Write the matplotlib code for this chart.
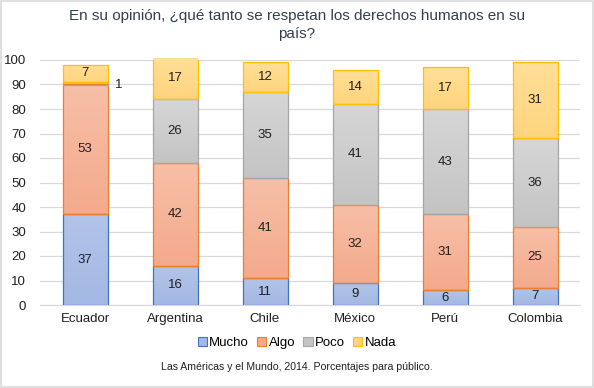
import numpy as np
import matplotlib
matplotlib.use("Agg")
import matplotlib.pyplot as plt
from matplotlib.colors import LinearSegmentedColormap
from matplotlib.patches import Patch

plt.rcParams["font.family"] = ["Liberation Sans", "DejaVu Sans"]
fs = 9.5

countries = ["Ecuador", "Argentina", "Chile", "México", "Perú", "Colombia"]
series = ["Mucho", "Algo", "Poco", "Nada"]
mucho = [37, 16, 11, 9, 6, 7]
algo = [53, 42, 41, 32, 31, 25]
poco = [1, 26, 35, 41, 43, 36]
nada = [7, 17, 12, 14, 17, 31]

# (light top, darker bottom, edge)
styles = {
    "Mucho": ("#B2C4E8", "#A3B8E3", "#4472C4"),
    "Algo": ("#F7BFA8", "#F4AA8C", "#ED7D31"),
    "Poco": ("#D6D6D6", "#C4C4C4", "#A5A5A5"),
    "Nada": ("#FFDF98", "#FFD47E", "#FFC000"),
}

fig = plt.figure(figsize=(5.94, 3.88), dpi=100)
fig.patch.set_facecolor("white")
ax = fig.add_axes([40 / 594, 1 - 305 / 388, 540 / 594, 245 / 388])

x = np.arange(len(countries))
width = 0.5
bottom = np.zeros(len(countries))
grad = np.linspace(1, 0, 64).reshape(-1, 1)
for name, vals in zip(series, [mucho, algo, poco, nada]):
    top_c, bot_c, edge = styles[name]
    cmap = LinearSegmentedColormap.from_list(name, [bot_c, top_c])
    bars = ax.bar(x, vals, width, bottom=bottom, color=bot_c, edgecolor=edge,
                  linewidth=0.9, label=name, zorder=3)
    # vertical gradient fill, clipped to each bar
    for b in bars:
        bx, by = b.get_x(), b.get_y()
        im = ax.imshow(grad, cmap=cmap, aspect="auto", zorder=3.5,
                       extent=[bx, bx + b.get_width(), by, by + b.get_height()])
        im.set_clip_path(b)
        b.set_facecolor("none")
        b.set_zorder(4)
    for i, v in enumerate(vals):
        if v >= 3:
            ax.text(x[i], bottom[i] + v / 2, str(v), ha="center", va="center",
                    fontsize=fs, color="#202020", zorder=5)
        else:
            ax.text(x[i] + width / 2 + 0.12, bottom[i] + v / 2 - 0.5, str(v),
                    ha="center", va="center", fontsize=fs, color="#202020", zorder=5)
    bottom += np.array(vals)

ax.set_xlim(-0.5, len(countries) - 0.5)
ax.set_ylim(0, 100)
ax.set_yticks(range(0, 101, 10))
ax.set_xticks(x)
ax.set_xticklabels(countries)
ax.tick_params(axis="both", length=0, labelsize=fs, colors="#202020")
ax.tick_params(axis="y", pad=10)
ax.tick_params(axis="x", pad=6)
ax.grid(axis="y", color="#D9D9D9", linewidth=0.9, zorder=0)
for s in ["top", "right", "left"]:
    ax.spines[s].set_visible(False)
ax.spines["bottom"].set_color("#D9D9D9")

fig.text(0.5, 0.978, "En su opinión, ¿qué tanto se respetan los derechos humanos en su\npaís?",
         ha="center", va="top", fontsize=11, color="#333F50", linespacing=1.4)

leg_handles = [Patch(facecolor=styles[n][1], edgecolor=styles[n][2], linewidth=0.8) for n in series]
fig.legend(leg_handles, series, loc="center", bbox_to_anchor=(0.5, 1 - 343 / 388),
           ncol=4, frameon=False, fontsize=fs, handlelength=0.7, handleheight=0.7,
           handletextpad=0.2, columnspacing=0.6)

fig.text(0.5, 1 - 367 / 388, "Las Américas y el Mundo, 2014. Porcentajes para público.",
         ha="center", va="center", fontsize=7.6, color="#202020")

border = plt.Rectangle((0.002, 0.002), 0.996, 0.996, transform=fig.transFigure,
                       fill=False, edgecolor="#D9D9D9", linewidth=1.2)
fig.patches.append(border)

fig.savefig("out.png", dpi=100)
